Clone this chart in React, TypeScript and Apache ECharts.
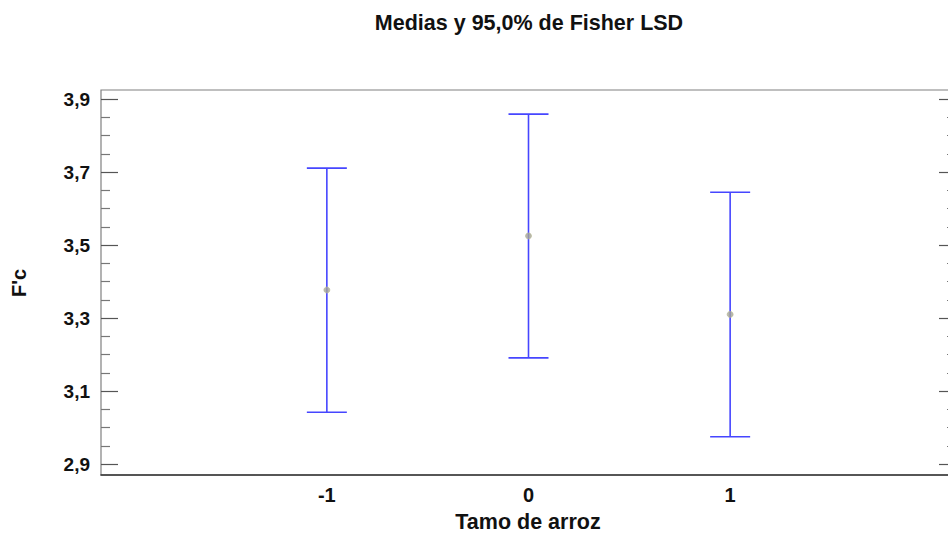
import React, { useEffect, useRef } from "react";
import * as echarts from "echarts";

const titleText = "Medias y 95,0% de Fisher LSD";
const xName = "Tamo de arroz";
const yName = "F'c";

const levels = [-1, 0, 1];
const means = [3.377, 3.525, 3.31];
const lower = [3.042, 3.191, 2.975];
const upper = [3.711, 3.859, 3.645];

const yMajor = [2.9, 3.1, 3.3, 3.5, 3.7, 3.9];
const yMinor = [
  2.95, 3.0, 3.05, 3.15, 3.2, 3.25, 3.35, 3.4, 3.45, 3.55, 3.6, 3.65, 3.75, 3.8, 3.85,
];
const xTicks = [-1, 0, 1];

const FONT = "'Liberation Sans', Arial, sans-serif";

export default function App() {
  const ref = useRef<HTMLDivElement>(null);

  useEffect(() => {
    document.body.style.margin = "0";
    const chart = echarts.init(ref.current!, undefined, { renderer: "svg" });

    const yMin = 2.87;
    const yMax = 3.925;

    const baseY = (pos: "left" | "right", major: boolean) => ({
      type: "value",
      min: yMin,
      max: yMax,
      position: pos,
      gridIndex: 0,
      axisLine: { show: false, onZero: false },
      splitLine: { show: false },
      axisTick: {
        show: true,
        inside: true,
        length: major ? 17 : 9,
        customValues: major ? yMajor : yMinor,
        lineStyle: { color: major ? "#555" : "#777", width: 1.2 },
      },
      axisLabel:
        pos === "left" && major
          ? {
              show: true,
              customValues: yMajor,
              formatter: (v: number) => v.toFixed(1).replace(".", ","),
              color: "#111",
              fontWeight: "bold",
              fontSize: 19,
              fontFamily: FONT,
              margin: 11,
            }
          : { show: false },
    });

    const option: any = {
      animation: false,
      backgroundColor: "#ffffff",
      grid: {
        left: 101,
        top: 90,
        width: 855,
        height: 385,
        show: true,
        borderColor: "#808080",
        borderWidth: 1.2,
        backgroundColor: "transparent",
      },
      xAxis: {
        type: "value",
        min: -2.12,
        max: 2.12,
        axisLine: { show: true, onZero: false, lineStyle: { color: "#333", width: 1.5 } },
        axisTick: { show: false },
        splitLine: { show: false },
        axisLabel: {
          customValues: xTicks,
          formatter: (v: number) => String(v),
          color: "#111",
          fontWeight: "bold",
          fontSize: 20,
          fontFamily: FONT,
          margin: 10,
        },
      },
      yAxis: [baseY("left", true), baseY("left", false), baseY("right", true), baseY("right", false)],
      graphic: [
        {
          type: "text",
          x: 529,
          y: 23,
          style: {
            text: titleText,
            align: "center",
            verticalAlign: "middle",
            font: `bold 21.5px ${FONT}`,
            fill: "#111",
          },
        },
        {
          type: "text",
          x: 528,
          y: 522,
          style: {
            text: xName,
            align: "center",
            verticalAlign: "middle",
            font: `bold 21.5px ${FONT}`,
            fill: "#111",
          },
        },
        {
          type: "text",
          x: 19,
          y: 283,
          rotation: Math.PI / 2,
          style: {
            text: yName,
            align: "center",
            verticalAlign: "middle",
            font: `bold 20px ${FONT}`,
            fill: "#111",
          },
        },
      ],
      series: [
        {
          type: "custom",
          yAxisIndex: 0,
          data: levels.map((x, i) => [x, lower[i], upper[i]]),
          renderItem: (params: any, api: any) => {
            const x = api.value(0);
            const lo = api.coord([x, api.value(1)]);
            const hi = api.coord([x, api.value(2)]);
            const hw = 20;
            const style = { stroke: "#4646ff", lineWidth: 1.6 };
            return {
              type: "group",
              children: [
                { type: "line", shape: { x1: hi[0], y1: hi[1], x2: lo[0], y2: lo[1] }, style },
                { type: "line", shape: { x1: hi[0] - hw, y1: hi[1], x2: hi[0] + hw, y2: hi[1] }, style },
                { type: "line", shape: { x1: lo[0] - hw, y1: lo[1], x2: lo[0] + hw, y2: lo[1] }, style },
              ],
            };
          },
          z: 2,
        },
        {
          type: "scatter",
          yAxisIndex: 0,
          data: levels.map((x, i) => [x, means[i]]),
          symbol: "circle",
          symbolSize: 6,
          itemStyle: { color: "#a4a49a", borderColor: "#b8b890", borderWidth: 0.8 },
          z: 3,
        },
      ],
    };

    chart.setOption(option);
    return () => chart.dispose();
  }, []);

  return (
    <div style={{ width: 948, height: 533, overflow: "hidden", position: "relative" }}>
      <div ref={ref} style={{ width: 960, height: 533 }} />
    </div>
  );
}
